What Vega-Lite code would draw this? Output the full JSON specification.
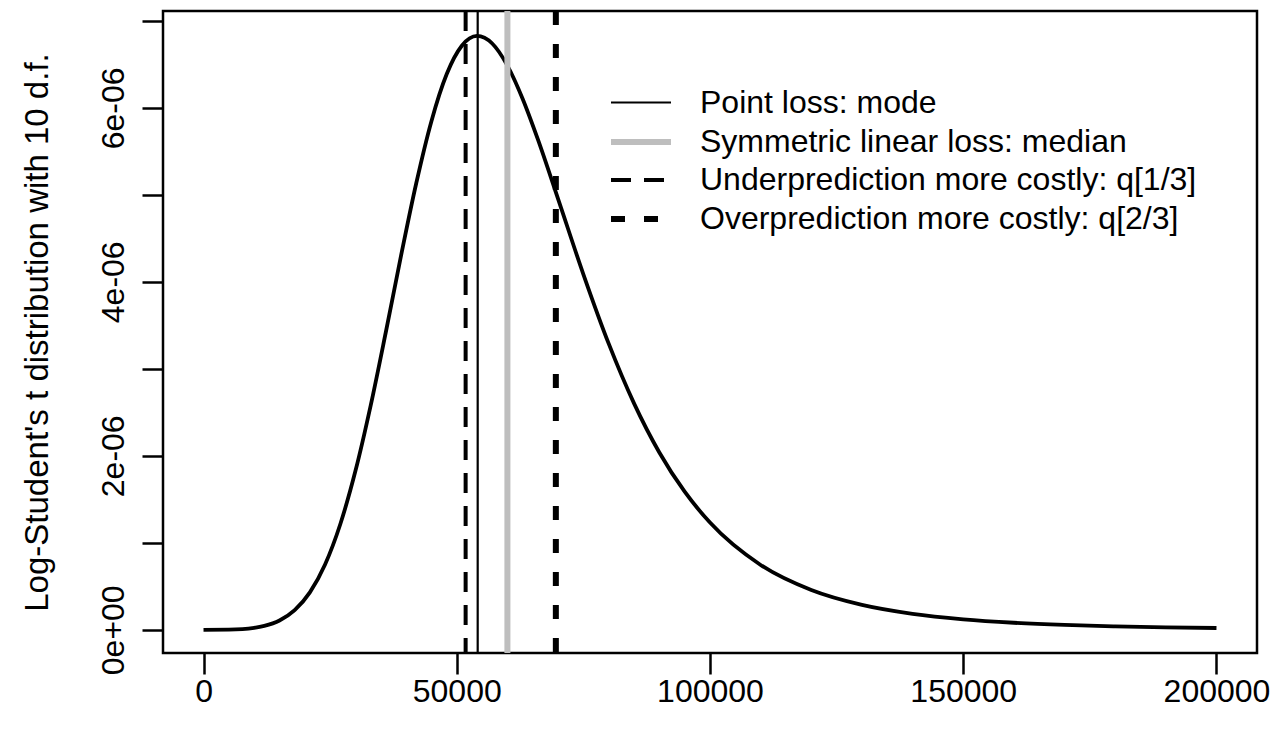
{
  "$schema": "https://vega.github.io/schema/vega-lite/v6.json",
  "width": 1094,
  "height": 642,
  "autosize": {"type": "none"},
  "padding": {"left": 163, "top": 11, "right": 18, "bottom": 79},
  "background": "white",
  "config": {
    "view": {"stroke": "black", "strokeWidth": 2.5},
    "font": "Liberation Sans",
    "axis": {
      "grid": false,
      "domain": false,
      "tickColor": "black",
      "tickWidth": 2.5,
      "tickSize": 21,
      "labelFont": "Liberation Sans",
      "labelFontSize": 32,
      "labelColor": "black",
      "labelFlush": false,
      "labelOverlap": false,
      "titleFont": "Liberation Sans",
      "titleFontSize": 32,
      "titleFontWeight": "normal",
      "titleColor": "black"
    }
  },
  "layer": [
    {
      "data": {
        "values": [
          {"x": 0, "y": 0},
          {"x": 5000, "y": 2.6e-9},
          {"x": 10000, "y": 2.31e-8},
          {"x": 12000, "y": 4.51e-8},
          {"x": 15000, "y": 1.073e-7},
          {"x": 18000, "y": 2.26e-7},
          {"x": 21000, "y": 4.301e-7},
          {"x": 24000, "y": 7.509e-7},
          {"x": 27000, "y": 1.2133e-6},
          {"x": 30000, "y": 1.8271e-6},
          {"x": 33000, "y": 2.5772e-6},
          {"x": 36000, "y": 3.4229e-6},
          {"x": 39000, "y": 4.3e-6},
          {"x": 42000, "y": 5.1324e-6},
          {"x": 45000, "y": 5.8467e-6},
          {"x": 48000, "y": 6.385e-6},
          {"x": 51000, "y": 6.7133e-6},
          {"x": 54000, "y": 6.8259e-6},
          {"x": 57000, "y": 6.7391e-6},
          {"x": 60000, "y": 6.4852e-6},
          {"x": 63000, "y": 6.1048e-6},
          {"x": 66000, "y": 5.6399e-6},
          {"x": 70000, "y": 4.9537e-6},
          {"x": 75000, "y": 4.0864e-6},
          {"x": 80000, "y": 3.2888e-6},
          {"x": 85000, "y": 2.6029e-6},
          {"x": 90000, "y": 2.0384e-6},
          {"x": 95000, "y": 1.5868e-6},
          {"x": 100000, "y": 1.2322e-6},
          {"x": 110000, "y": 7.4505e-7},
          {"x": 120000, "y": 4.5678e-7},
          {"x": 130000, "y": 2.8581e-7},
          {"x": 140000, "y": 1.8311e-7},
          {"x": 150000, "y": 1.2015e-7},
          {"x": 160000, "y": 8.077e-8},
          {"x": 170000, "y": 5.552e-8},
          {"x": 180000, "y": 3.897e-8},
          {"x": 190000, "y": 2.789e-8},
          {"x": 200000, "y": 2.034e-8}
        ]
      },
      "mark": {"type": "line", "color": "black", "strokeWidth": 3.8, "interpolate": "monotone", "clip": true},
      "encoding": {
        "x": {
          "field": "x", "type": "quantitative",
          "scale": {"domain": [-8000, 208000], "nice": false, "zero": false},
          "axis": {"values": [0, 50000, 100000, 150000, 200000], "format": "d", "title": null, "labelPadding": 2}
        },
        "y": {
          "field": "y", "type": "quantitative",
          "scale": {"domain": [-2.669e-7, 7.1127e-6], "nice": false, "zero": false},
          "axis": {
            "values": [0, 0.000001, 0.000002, 0.000003, 0.000004, 0.000005, 0.000006, 0.000007],
            "labelExpr": "round(datum.value*1e6) % 2 == 0 ? (round(datum.value*1e6) == 0 ? '0e+00' : round(datum.value*1e6) + 'e-06') : ''",
            "labelAngle": -90,
            "labelAlign": "center",
            "labelBaseline": "alphabetic",
            "labelPadding": 19,
            "title": "Log-Student's t distribution with 10 d.f.",
            "titleAngle": -90,
            "titleAlign": "center",
            "titleBaseline": "alphabetic",
            "titleFontSize": 33,
            "titleX": -116,
            "titleY": 321
          }
        }
      }
    },
    {
      "data": {
        "values": [
          {"label": "Point loss: mode", "value": 54133},
          {"label": "Symmetric linear loss: median", "value": 60000},
          {"label": "Underprediction more costly: q[1/3]", "value": 51751},
          {"label": "Overprediction more costly: q[2/3]", "value": 69564}
        ]
      },
      "mark": {"type": "rule"},
      "encoding": {
        "x": {"field": "value", "type": "quantitative"},
        "color": {
          "field": "label", "type": "nominal",
          "scale": {
            "domain": ["Point loss: mode", "Symmetric linear loss: median", "Underprediction more costly: q[1/3]", "Overprediction more costly: q[2/3]"],
            "range": ["black", "#BEBEBE", "black", "black"]
          },
          "legend": {
            "title": null,
            "orient": "none",
            "legendX": 460,
            "legendY": 75,
            "padding": 0,
            "symbolType": "M-2,0H2",
            "symbolSize": 900,
            "labelFont": "Liberation Sans",
            "labelFontSize": 32,
            "labelColor": "black",
            "labelOffset": 41,
            "rowPadding": 5,
            "labelLimit": 800
          }
        },
        "strokeDash": {
          "field": "label", "type": "nominal",
          "scale": {
            "domain": ["Point loss: mode", "Symmetric linear loss: median", "Underprediction more costly: q[1/3]", "Overprediction more costly: q[2/3]"],
            "range": [[1, 0], [1, 0], [20, 13], [14, 19]]
          }
        },
        "strokeWidth": {
          "field": "label", "type": "nominal",
          "scale": {
            "type": "ordinal",
            "domain": ["Point loss: mode", "Symmetric linear loss: median", "Underprediction more costly: q[1/3]", "Overprediction more costly: q[2/3]"],
            "range": [2.2, 6, 4, 6]
          }
        }
      }
    }
  ]
}
